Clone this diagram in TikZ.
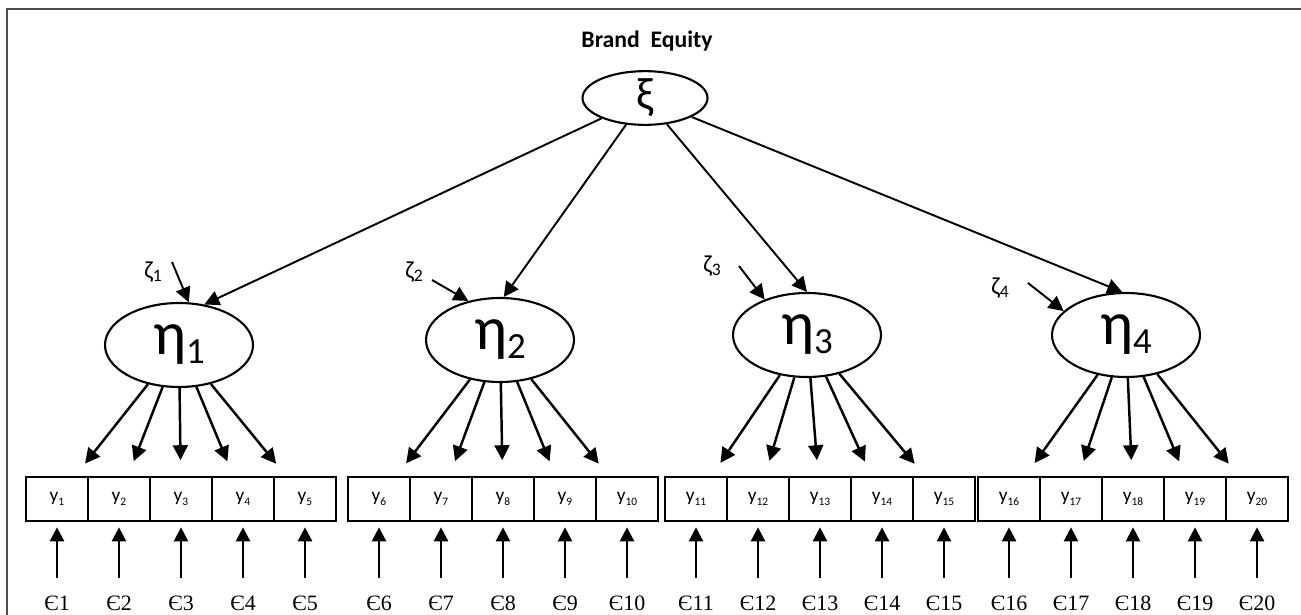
\documentclass[tikz,border=0pt]{standalone}
\usepackage{fontspec}
\setmainfont{Liberation Serif}
\newfontfamily\calib{Carlito}
\usetikzlibrary{arrows.meta,positioning,shapes}

% labels
\newcommand\etav[1]{{\calib\fontsize{35}{35}\selectfont η\raisebox{-5pt}{\fontsize{21}{21}\selectfont #1}}}
\newcommand\zetav[1]{{\calib\fontsize{14}{14}\selectfont ζ\raisebox{-1.5pt}{\fontsize{10}{10}\selectfont #1}}}
\newcommand\yv[1]{{\calib\fontsize{11}{11}\selectfont y\raisebox{-2pt}{\fontsize{6.5}{6.5}\selectfont #1}}}

\begin{document}
\begin{tikzpicture}[x=0.02cm,y=-0.02cm,
  latent/.style={draw,ellipse,line width=1.2pt,inner sep=0pt,minimum width=2.96cm,minimum height=1.68cm},
  obs/.style={draw,rectangle,line width=1.2pt,inner sep=0pt,minimum width=1.24cm,minimum height=0.88cm},
  errlab/.style={font=\fontsize{12.5}{12.5}\selectfont,inner sep=0pt},
  struct/.style={-{Triangle[length=8.5pt,width=8.5pt]},line width=1.1pt},
  load/.style={-{Triangle[length=8.5pt,width=8.5pt]},line width=1.4pt,shorten >=9pt},
  err/.style={-{Triangle[length=8pt,width=8pt]},line width=1.4pt,shorten <=10pt,shorten >=3pt}]
\useasboundingbox (0,0) rectangle (1301,615);
\draw[line width=0.9pt,black!70] (7,615) -- (7,9) -- (1301,9);

\node[font=\calib\bfseries\fontsize{13.5}{13.5}\selectfont,anchor=base] (title) at (647,48) {Brand\ \ Equity};
\node[latent,minimum width=2.5cm,minimum height=1.06cm] (xi) at (645,98) {\calib\fontsize{26}{26}\selectfont ξ};

\node[latent] (eta1) at (179,345) {\etav{1}};
\node[latent] (eta2) at (500,340) {\etav{2}};
\node[latent] (eta3) at (807,335) {\etav{3}};
\node[latent] (eta4) at (1126,335) {\etav{4}};

\draw[struct] (xi) -- (eta1.58);
\draw[struct] (xi) -- (eta2.85);
\draw[struct] (xi) -- (eta3.north);
\draw[struct] (xi) -- (eta4.95);

% disturbances
\node (z1) at (153,272) {\zetav{1}};
\node (z2) at (414,272) {\zetav{2}};
\node (z3) at (712,266) {\zetav{3}};
\node (z4) at (1000,288) {\zetav{4}};
\coordinate (d1) at (172,262);
\coordinate (d2) at (432,280);
\coordinate (d3) at (739,266);
\coordinate (d4) at (1028,283);
\draw[struct] (d1) -- (eta1.77);
\draw[struct] (d2) -- (eta2.129);
\draw[struct] (d3) -- (eta3.140);
\draw[struct] (d4) -- (eta4.159);

% indicators
\node[obs] (y1) at (57,499) {\yv{1}};
\node[obs] (y2) at (119,499) {\yv{2}};
\node[obs] (y3) at (181,499) {\yv{3}};
\node[obs] (y4) at (243,499) {\yv{4}};
\node[obs] (y5) at (305,499) {\yv{5}};
\node[obs] (y6) at (379,499) {\yv{6}};
\node[obs] (y7) at (441,499) {\yv{7}};
\node[obs] (y8) at (503,499) {\yv{8}};
\node[obs] (y9) at (565,499) {\yv{9}};
\node[obs] (y10) at (627,499) {\yv{10}};
\node[obs] (y11) at (696,499) {\yv{11}};
\node[obs] (y12) at (758,499) {\yv{12}};
\node[obs] (y13) at (820,499) {\yv{13}};
\node[obs] (y14) at (882,499) {\yv{14}};
\node[obs] (y15) at (944,499) {\yv{15}};
\node[obs] (y16) at (1009,499) {\yv{16}};
\node[obs] (y17) at (1071,499) {\yv{17}};
\node[obs] (y18) at (1133,499) {\yv{18}};
\node[obs] (y19) at (1195,499) {\yv{19}};
\node[obs] (y20) at (1257,499) {\yv{20}};

\draw[load] (eta1) -- (y1);
\draw[load] (eta1) -- (y2);
\draw[load] (eta1) -- (y3);
\draw[load] (eta1) -- (y4);
\draw[load] (eta1) -- (y5);
\draw[load] (eta2) -- (y6);
\draw[load] (eta2) -- (y7);
\draw[load] (eta2) -- (y8);
\draw[load] (eta2) -- (y9);
\draw[load] (eta2) -- (y10);
\draw[load] (eta3) -- (y11);
\draw[load] (eta3) -- (y12);
\draw[load] (eta3) -- (y13);
\draw[load] (eta3) -- (y14);
\draw[load] (eta3) -- (y15);
\draw[load] (eta4) -- (y16);
\draw[load] (eta4) -- (y17);
\draw[load] (eta4) -- (y18);
\draw[load] (eta4) -- (y19);
\draw[load] (eta4) -- (y20);

% errors
\node[errlab] (e1) at (57,603) {Є1};
\node[errlab] (e2) at (119,603) {Є2};
\node[errlab] (e3) at (181,603) {Є3};
\node[errlab] (e4) at (243,603) {Є4};
\node[errlab] (e5) at (305,603) {Є5};
\node[errlab] (e6) at (379,603) {Є6};
\node[errlab] (e7) at (441,603) {Є7};
\node[errlab] (e8) at (503,603) {Є8};
\node[errlab] (e9) at (565,603) {Є9};
\node[errlab] (e10) at (627,603) {Є10};
\node[errlab] (e11) at (696,603) {Є11};
\node[errlab] (e12) at (758,603) {Є12};
\node[errlab] (e13) at (820,603) {Є13};
\node[errlab] (e14) at (882,603) {Є14};
\node[errlab] (e15) at (944,603) {Є15};
\node[errlab] (e16) at (1009,603) {Є16};
\node[errlab] (e17) at (1071,603) {Є17};
\node[errlab] (e18) at (1133,603) {Є18};
\node[errlab] (e19) at (1195,603) {Є19};
\node[errlab] (e20) at (1257,603) {Є20};

\draw[err] (e1) -- (y1);
\draw[err] (e2) -- (y2);
\draw[err] (e3) -- (y3);
\draw[err] (e4) -- (y4);
\draw[err] (e5) -- (y5);
\draw[err] (e6) -- (y6);
\draw[err] (e7) -- (y7);
\draw[err] (e8) -- (y8);
\draw[err] (e9) -- (y9);
\draw[err] (e10) -- (y10);
\draw[err] (e11) -- (y11);
\draw[err] (e12) -- (y12);
\draw[err] (e13) -- (y13);
\draw[err] (e14) -- (y14);
\draw[err] (e15) -- (y15);
\draw[err] (e16) -- (y16);
\draw[err] (e17) -- (y17);
\draw[err] (e18) -- (y18);
\draw[err] (e19) -- (y19);
\draw[err] (e20) -- (y20);
\end{tikzpicture}
\end{document}
